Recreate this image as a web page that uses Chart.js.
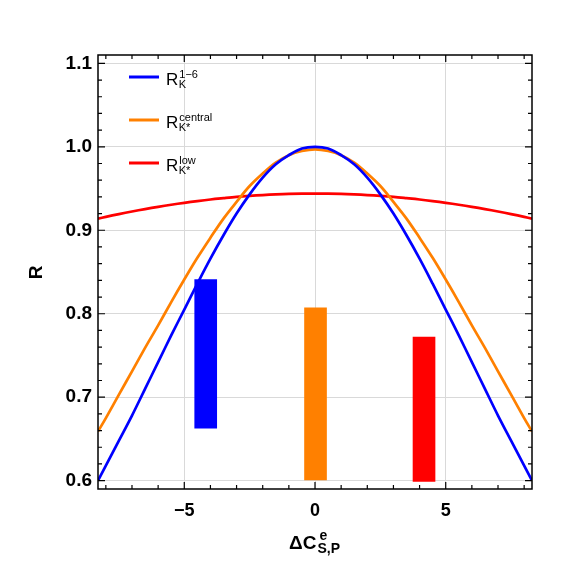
<!DOCTYPE html>
<html><head><meta charset="utf-8">
<script src="https://cdn.jsdelivr.net/npm/chart.js@4.4.1/dist/chart.umd.min.js"></script>
<style>html,body{margin:0;padding:0;background:#fff;} #wrap{width:563px;height:567px;position:relative;}</style>
</head><body><div id="wrap"><canvas id="c" width="563" height="567"></canvas></div>
<script>
// ---- data ----
const xValues = [-8.3,-8,-7.5,-7,-6.5,-6,-5.5,-5,-4.5,-4,-3.5,-3,-2.5,-2,-1.5,-1,-0.5,0,0.5,1,1.5,2,2.5,3,3.5,4,4.5,5,5.5,6,6.5,7,7.5,8,8.3];
const rK16 = [0.600,0.618,0.648,0.678,0.710,0.742,0.774,0.805,0.836,0.866,0.894,0.920,0.943,0.963,0.979,0.990,0.998,1.000,0.998,0.990,0.979,0.963,0.943,0.920,0.894,0.866,0.836,0.805,0.774,0.742,0.710,0.678,0.648,0.618,0.600];
const rKsCentral = [0.659,0.675,0.703,0.731,0.759,0.786,0.814,0.841,0.867,0.891,0.914,0.934,0.953,0.968,0.981,0.990,0.995,0.997,0.995,0.990,0.981,0.968,0.953,0.934,0.914,0.891,0.867,0.841,0.814,0.786,0.759,0.731,0.703,0.675,0.659];
const rKsLow = [0.9140,0.9161,0.9194,0.9225,0.9254,0.9281,0.9306,0.9329,0.9350,0.9369,0.9385,0.9400,0.9412,0.9422,0.9430,0.9436,0.9439,0.9440,0.9439,0.9436,0.9430,0.9422,0.9412,0.9400,0.9385,0.9369,0.9350,0.9329,0.9306,0.9281,0.9254,0.9225,0.9194,0.9161,0.9140];
const barCenters = [-4.18, 0.02, 4.17];
const barLows = [0.663, 0.601, 0.599];
const barHighs = [0.841, 0.807, 0.772];
const seriesNames = ['R_K^{1-6}', 'R_{K*}^{central}', 'R_{K*}^{low}'];
const legendSup = ['1\u22126', 'central', 'low'];
const legendSub = ['K', 'K*', 'K*'];
const xTickValues = [-5, 0, 5];
const xMinorTicks = [-8,-7,-6,-4,-3,-2,-1,1,2,3,4,6,7,8];
const yTickValues = [0.6, 0.7, 0.8, 0.9, 1.0, 1.1];
const yMinorTicks = [0.62,0.64,0.66,0.68,0.72,0.74,0.76,0.78,0.82,0.84,0.86,0.88,0.92,0.94,0.96,0.98,1.02,1.04,1.06,1.08];
const xRange = [-8.3, 8.3];
const yRange = [0.59, 1.11];

// ---- styles ----
const COLORS = ['#0000ff', '#ff8000', '#ff0000'];
const FONT = '"Liberation Sans", Arial, sans-serif';

const pts = ys => xValues.map((x, i) => ({x: x, y: ys[i]}));
const lineDs = (label, ys, color) => ({
  type: 'line', label: label, data: pts(ys), borderColor: color, backgroundColor: color,
  borderWidth: 2.7, pointRadius: 0, tension: 0.35, fill: false, order: 1
});
const barDs = (i) => ({
  type: 'bar', label: 'band' + i, grouped: false,
  data: [{x: barCenters[i], y: [barLows[i], barHighs[i]]}],
  backgroundColor: COLORS[i], borderWidth: 0, barThickness: 22, order: 2
});

const framePlugin = {
  id: 'frame',
  afterDraw(chart) {
    const ctx = chart.ctx, a = chart.chartArea, xs = chart.scales.x, ys = chart.scales.y;
    ctx.save();
    ctx.strokeStyle = '#000';
    ctx.lineWidth = 1.5;
    ctx.strokeRect(a.left, a.top, a.right - a.left, a.bottom - a.top);
    ctx.lineWidth = 1.2;
    ctx.beginPath();
    const tx = (v, len) => { const p = xs.getPixelForValue(v);
      ctx.moveTo(p, a.bottom); ctx.lineTo(p, a.bottom - len);
      ctx.moveTo(p, a.top); ctx.lineTo(p, a.top + len); };
    const ty = (v, len) => { const p = ys.getPixelForValue(v);
      ctx.moveTo(a.left, p); ctx.lineTo(a.left + len, p);
      ctx.moveTo(a.right, p); ctx.lineTo(a.right - len, p); };
    xTickValues.forEach(v => tx(v, 7));
    xMinorTicks.forEach(v => tx(v, 4));
    yTickValues.forEach(v => ty(v, 7));
    yMinorTicks.forEach(v => ty(v, 4));
    ctx.stroke();

    // y title
    ctx.fillStyle = '#000';
    ctx.font = 'bold 19px ' + FONT;
    ctx.textAlign = 'center';
    ctx.textBaseline = 'middle';
    ctx.save();
    ctx.translate(37, (a.top + a.bottom) / 2 + 0.5);
    ctx.rotate(-Math.PI / 2);
    ctx.fillText('R', 0, 0);
    ctx.restore();

    // x title  ΔC^e_{S,P}
    ctx.textAlign = 'left';
    ctx.textBaseline = 'alphabetic';
    ctx.font = 'bold 19px ' + FONT;
    const main = '\u0394C';
    const wMain = ctx.measureText(main).width;
    ctx.font = 'bold 14px ' + FONT;
    const wSub = ctx.measureText('S,P').width;
    const total = wMain + 2 + wSub;
    const cx = (a.left + a.right) / 2;
    const x0 = cx - total / 2;
    ctx.font = 'bold 19px ' + FONT;
    ctx.fillText(main, x0, 548.5);
    ctx.font = 'bold 14px ' + FONT;
    ctx.fillText('e', x0 + wMain + 3, 539.5);
    ctx.fillText('S,P', x0 + wMain + 1, 552.5);

    // legend
    for (let i = 0; i < 3; i++) {
      const y = a.top + 22 + i * 43;
      ctx.strokeStyle = COLORS[i];
      ctx.lineWidth = 3;
      ctx.beginPath();
      ctx.moveTo(129, y); ctx.lineTo(159, y);
      ctx.stroke();
      ctx.fillStyle = '#000';
      ctx.font = '17px ' + FONT;
      ctx.fillText('R', 166, y + 7.5);
      const wr = ctx.measureText('R').width;
      ctx.font = '11px ' + FONT;
      ctx.fillText(legendSup[i], 166 + wr + 1, y + 0.5);
      ctx.fillText(legendSub[i], 166 + wr + 0.5, y + 11);
    }
    ctx.restore();
  }
};

new Chart(document.getElementById('c'), {
  data: {
    datasets: [
      barDs(0), barDs(1), barDs(2),
      lineDs(seriesNames[0], rK16, COLORS[0]),
      lineDs(seriesNames[1], rKsCentral, COLORS[1]),
      lineDs(seriesNames[2], rKsLow, COLORS[2])
    ]
  },
  options: {
    responsive: false,
    animation: false,
    layout: {padding: {top: 55, right: 31, bottom: 0, left: 0}},
    plugins: {legend: {display: false}, tooltip: {enabled: false}},
    scales: {
      x: {
        type: 'linear', min: xRange[0], max: xRange[1], offset: false,
        grid: {color: '#d9d9d9', lineWidth: 1, drawTicks: false, offset: false},
        border: {display: false},
        afterBuildTicks: s => { s.ticks = xTickValues.map(v => ({value: v})); },
        afterFit: s => { s.height = 78; },
        ticks: {
          color: '#000', padding: 11, maxRotation: 0, autoSkip: false,
          font: {family: FONT, size: 18, weight: 'bold'},
          callback: v => (v < 0 ? '\u2212' + Math.abs(v) : String(v))
        }
      },
      y: {
        type: 'linear', min: yRange[0], max: yRange[1],
        grid: {color: '#d9d9d9', lineWidth: 1, drawTicks: false},
        border: {display: false},
        afterBuildTicks: s => { s.ticks = yTickValues.map(v => ({value: v})); },
        afterFit: s => { s.width = 98; },
        ticks: {
          color: '#000', padding: 6, autoSkip: false,
          font: {family: FONT, size: 19, weight: 'bold'},
          callback: v => Number(v).toFixed(1)
        }
      }
    }
  },
  plugins: [framePlugin]
});
</script>
</body></html>
